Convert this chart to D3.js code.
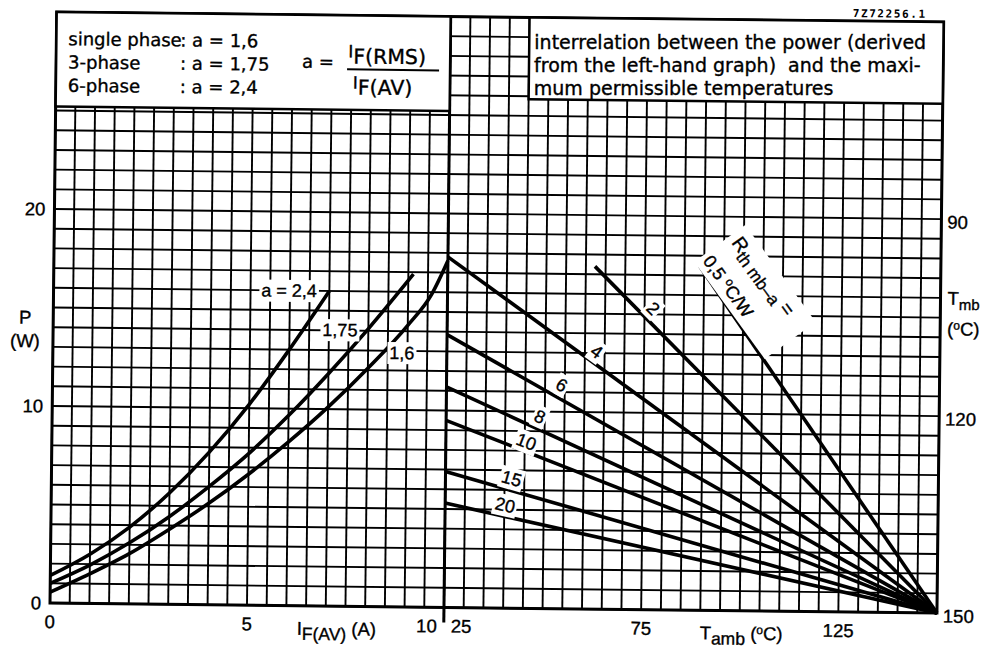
<!DOCTYPE html>
<html><head><meta charset="utf-8">
<script src="https://cdn.jsdelivr.net/npm/d3@7"></script>
<style>body{margin:0;background:#fff}</style>
</head><body>
<svg id="c" width="986" height="653" font-family="'Liberation Sans',Arial,sans-serif"></svg>
<script>
// ---------- data ----------
// left graph: P (W) versus I_F(AV) (A) for three form factors a
const formFactors = ["2,4", "1,75", "1,6"];
const curveA24  = [[0,1.4],[1,2.5],[2,3.9],[3,5.65],[4,7.75],[5,10.2],[6,13.0],[7,16.0]];
const curveA175 = [[0,1.0],[1,1.95],[2,3.1],[3,4.45],[4,6.0],[5,7.7],[6,9.65],[7,11.8],[8,14.1],[9.13,16.9]];
const curveA16  = [[0,0.55],[1,1.5],[2,2.55],[3,3.8],[4,5.15],[5,6.65],[6,8.3],[7,10.1],[8,12.1],[9,14.3],[9.6,15.9],[10,17.6]];
// right graph: straight lines for R_th mb-a (°C/W), from (T_amb start, P start) to (150 °C, 0 W)
const rthValues  = ["0,5","2","4","6","8","10","15","20"];
const lineStartT = [88.9, 62.3, 25, 25, 25, 25, 25, 25];
const lineStartP = [17.45, 17.4, 17.8, 13.85, 11.2, 9.5, 6.9, 5.3];
const lineEndT = 150, lineEndP = 0;
// axes
const iTicks = [0, 5, 10];
const pTicks = [0, 10, 20];
const tambTicks = [25, 75, 125];
const tmbTicks = [90, 120, 150];

// ---------- layout ----------
const svg = d3.select("#c");
svg.append("rect").attr("width",986).attr("height",653).attr("fill","#fff");
const ROT = 0.65, CX = 50, CY = 603;
const g = svg.append("g").attr("transform",`rotate(${ROT},${CX},${CY})`);
function toPage(lx, ly){
  const a = ROT*Math.PI/180, c = Math.cos(a), s = Math.sin(a);
  return [CX + (lx-CX)*c - (ly-CY)*s, CY + (lx-CX)*s + (ly-CY)*c];
}

const xI = d3.scaleLinear().domain([0,10]).range([50,444]);
const xT = d3.scaleLinear().domain([25,150]).range([444,937]);
const y  = d3.scaleLinear().domain([0,30]).range([603,12]);
const yTmb = d3.scaleLinear().domain([150,60]).range([603,12]);

const INK = "#000";
const BOXFONT = "'DejaVu Sans',Verdana,sans-serif";
function T(sel){ return sel.attr("fill",INK).attr("stroke",INK).attr("stroke-width",0.35); }

// grid
const grid = g.append("g").attr("stroke",INK).attr("stroke-width",1.9);
grid.selectAll("line.vi").data(d3.range(0,10.01,0.5)).join("line")
  .attr("x1",d=>xI(d)).attr("x2",d=>xI(d)).attr("y1",y(0)).attr("y2",y(30));
grid.selectAll("line.vt").data(d3.range(25,150.01,5)).join("line")
  .attr("x1",d=>xT(d)).attr("x2",d=>xT(d)).attr("y1",y(0)).attr("y2",y(30));
grid.selectAll("line.h").data(d3.range(0,30.01,1)).join("line")
  .attr("x1",xI(0)).attr("x2",xT(150)).attr("y1",d=>y(d)).attr("y2",d=>y(d));

// frame + divider
g.append("rect").attr("x",xI(0)).attr("y",y(30)).attr("width",xT(150)-xI(0)).attr("height",y(0)-y(30))
  .attr("fill","none").attr("stroke",INK).attr("stroke-width",3);
g.append("line").attr("x1",xI(10)).attr("x2",xI(10)).attr("y1",y(30)).attr("y2",y(0)+15)
  .attr("stroke",INK).attr("stroke-width",3);

// boxes
g.append("rect").attr("x",xI(0)).attr("y",y(30)).attr("width",xI(10)-xI(0)).attr("height",y(25.2)-y(30))
  .attr("fill","#fff").attr("stroke",INK).attr("stroke-width",2.5);
g.append("rect").attr("x",xT(45)).attr("y",y(30)).attr("width",xT(150)-xT(45)).attr("height",y(25.85)-y(30))
  .attr("fill","#fff").attr("stroke",INK).attr("stroke-width",2.5);

// left curves
const lineI = d3.line().x(d=>xI(d[0])).y(d=>y(d[1])).curve(d3.curveMonotoneX);
[curveA24, curveA175, curveA16].forEach(c=>{
  g.append("path").attr("d",lineI(c)).attr("fill","none").attr("stroke",INK).attr("stroke-width",3.6)
   .attr("stroke-linejoin","round");
});
// right lines
const lineT = d3.line().x(d=>xT(d[0])).y(d=>y(d[1]));
rthValues.forEach((r,i)=>{
  g.append("path").attr("d",lineT([[lineStartT[i],lineStartP[i]],[lineEndT,lineEndP]]))
   .attr("fill","none").attr("stroke",INK).attr("stroke-width",3.6);
});

// helper: text with white patch
function patchText(parent, x, yy, angle, str, size){
  const gg = parent.append("g").attr("transform",`translate(${x},${yy}) rotate(${angle})`);
  const t = T(gg.append("text")).attr("text-anchor","middle").attr("dy","0.35em")
    .attr("font-size",size).text(str);
  const b = t.node().getBBox();
  gg.insert("rect","text").attr("x",b.x-2).attr("y",b.y-1).attr("width",b.width+4).attr("height",b.height+2)
    .attr("fill","#fff");
  return gg;
}
// curve labels
const curveLabelPos = [[5.98,16.0],[7.28,14.03],[8.86,12.9]];
patchText(g, xI(curveLabelPos[0][0]), y(curveLabelPos[0][1]), 0, "a = " + formFactors[0], 18);
patchText(g, xI(curveLabelPos[1][0]), y(curveLabelPos[1][1]), 0, formFactors[1], 18);
patchText(g, xI(curveLabelPos[2][0]), y(curveLabelPos[2][1]), 0, formFactors[2], 18);

// Rth line labels
const rthLabelPos = [null,[77.2,15.3],[63.0,13.07],[54.2,11.36],[48.8,9.74],[45.4,8.46],[41.8,6.59],[40.2,5.23]];
rthValues.forEach((r,i)=>{
  if(!rthLabelPos[i]) return;
  const dx = xT(lineEndT)-xT(lineStartT[i]), dy = y(lineEndP)-y(lineStartP[i]);
  const ang = Math.atan2(dy,dx)*180/Math.PI;
  patchText(g, xT(rthLabelPos[i][0]), y(rthLabelPos[i][1]), ang, r, 18);
});

// Rth title (rotated)
{
  const gg = g.append("g").attr("transform","translate(736,235.6) rotate(53.4)");
  gg.append("rect").attr("x",-12).attr("y",-15).attr("width",120).attr("height",63).attr("fill","#fff");
  const t1 = T(gg.append("text")).attr("x",-6).attr("y",7).attr("font-size",19.5);
  t1.append("tspan").text("R");
  t1.append("tspan").attr("dy",5).attr("font-size",17).text("th mb\u2013a");
  t1.append("tspan").attr("dy",-5).text(" =");
  const t2 = T(gg.append("text")).attr("x",-8).attr("y",41).attr("font-size",18);
  t2.append("tspan").text("0,5 ");
  t2.append("tspan").attr("dy",-6).attr("font-size",12).text("o");
  t2.append("tspan").attr("dy",6).text("C/W");
}

// left legend text
const lg = g.append("g").attr("font-size",18).attr("font-family",BOXFONT);
const legendRows = [["single phase","a = 1,6"],["3-phase","a = 1,75"],["6-phase","a = 2,4"]];
legendRows.forEach((r,i)=>{
  T(lg.append("text")).attr("x",62).attr("y",45+23.3*i).text(r[0]);
  T(lg.append("text")).attr("x",174).attr("y",45+23.3*i).text(": " + r[1]);
});
T(lg.append("text")).attr("x",296).attr("y",65).text("a =");
{
  const n = T(lg.append("text")).attr("x",342).attr("y",54).attr("font-size",17);
  n.append("tspan").text("I");
  n.append("tspan").attr("dy",6).attr("font-size",20.5).text("F(RMS)");
  g.append("line").attr("x1",341).attr("x2",433).attr("y1",66).attr("y2",66).attr("stroke",INK).attr("stroke-width",2);
  const d = T(lg.append("text")).attr("x",347).attr("y",85).attr("font-size",17);
  d.append("tspan").text("I");
  d.append("tspan").attr("dy",6).attr("font-size",20.5).text("F(AV)");
}
// right legend text (drawn level, placed on the tilted box)
const rightLines = ["interrelation between the power (derived","from the left-hand graph)  and the maxi-","mum permissible temperatures"];
rightLines.forEach((s,i)=>{
  const p = toPage(528, 41.5+23*i);
  const t = T(svg.append("text")).attr("x",p[0]).attr("y",p[1]).attr("font-family",BOXFONT).attr("font-size",19)
    .attr("xml:space","preserve").text(s);
  const w = t.node().getComputedTextLength();
  t.attr("y", p[1] + (w/2)*Math.sin(ROT*Math.PI/180));
});
T(g.append("text")).attr("x",920).attr("y",8).attr("text-anchor","end").attr("font-size",11).attr("font-weight","bold")
  .attr("letter-spacing",1.6).attr("font-family","'DejaVu Sans Mono',monospace").attr("stroke-width",0).text("7Z72256.1");

// axis labels
const ax = g.append("g");
const AXF = 18.5;
pTicks.forEach(p=>T(ax.append("text")).attr("x",41).attr("y",y(p)).attr("dy","0.35em").attr("font-size",AXF).attr("text-anchor","end").text(p));
T(ax.append("text")).attr("x",22).attr("y",y(14.5)).attr("dy","0.35em").attr("font-size",AXF).attr("text-anchor","middle").text("P");
T(ax.append("text")).attr("x",22).attr("y",y(13.3)).attr("dy","0.35em").attr("font-size",AXF).attr("text-anchor","middle").text("(W)");
iTicks.forEach(v=>{
  const t = T(ax.append("text")).attr("x",xI(v)).attr("y",628).attr("font-size",AXF).text(v);
  if(v===10) t.attr("x",xI(v)-7).attr("text-anchor","end"); else t.attr("text-anchor","middle");
});
tambTicks.forEach(v=>{
  const t = T(ax.append("text")).attr("x",xT(v)).attr("y",628).attr("font-size",AXF).text(v);
  if(v===25) t.attr("x",xT(v)+7).attr("text-anchor","start"); else t.attr("text-anchor","middle");
});
tmbTicks.forEach(v=>T(ax.append("text")).attr("x",943).attr("y",yTmb(v)+3).attr("dy","0.35em").attr("font-size",AXF).text(v));
{
  const t = T(ax.append("text")).attr("x",297).attr("y",632).attr("font-size",AXF);
  t.append("tspan").text("I");
  t.append("tspan").attr("dy",5).attr("font-size",17.5).text("F(AV)");
  t.append("tspan").attr("dy",-5).text(" (A)");
  const u = T(ax.append("text")).attr("x",700).attr("y",632).attr("font-size",AXF);
  u.append("tspan").text("T");
  u.append("tspan").attr("dy",5).attr("font-size",17.5).text("amb");
  u.append("tspan").attr("dy",-5).text(" (");
  u.append("tspan").attr("dy",-6).attr("font-size",12).text("o");
  u.append("tspan").attr("dy",6).text("C)");
  const m = T(ax.append("text")).attr("x",944).attr("y",y(15.65)).attr("font-size",AXF);
  m.append("tspan").text("T");
  m.append("tspan").attr("dy",5).attr("font-size",15).text("mb");
  const m2 = T(ax.append("text")).attr("x",944).attr("y",y(14.1)).attr("font-size",AXF);
  m2.append("tspan").text("(");
  m2.append("tspan").attr("dy",-6).attr("font-size",12).text("o");
  m2.append("tspan").attr("dy",6).text("C)");
}
</script>
</body></html>
